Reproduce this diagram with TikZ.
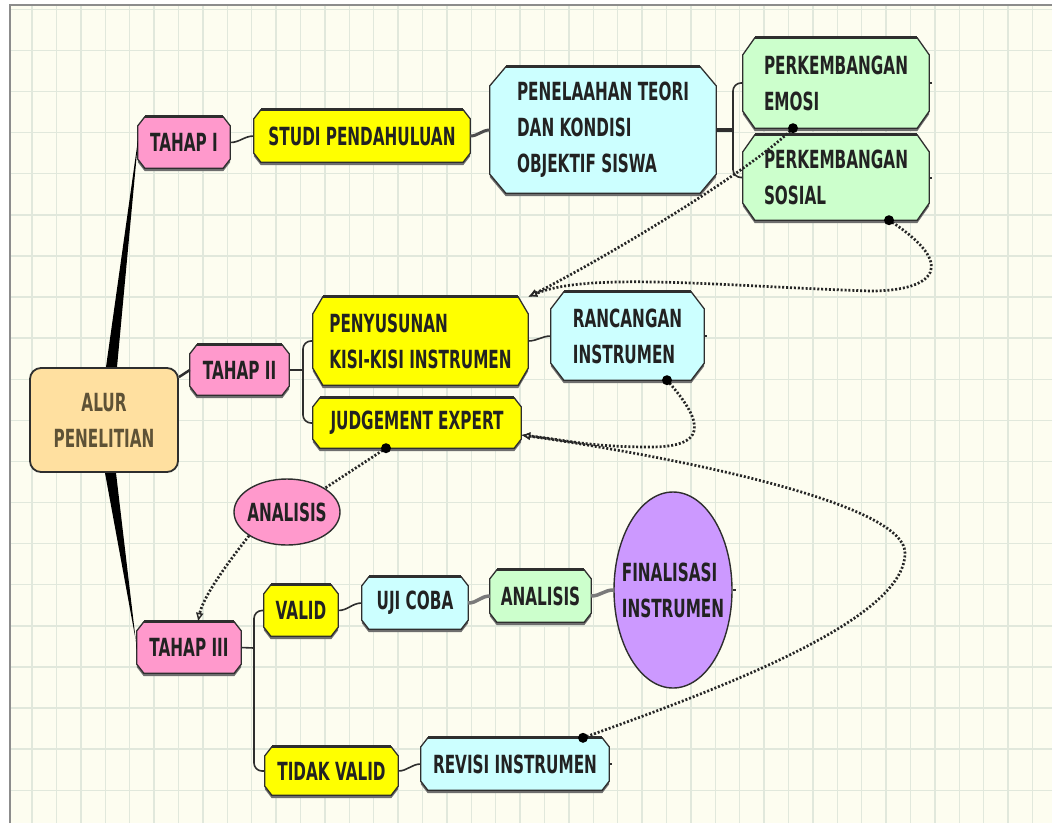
\documentclass[tikz,border=0pt]{standalone}
\usepackage{fontspec}
\newfontfamily\nf{DejaVu Sans}[FakeStretch=0.61]
\usetikzlibrary{shapes.geometric,arrows.meta}
\pgfdeclarelayer{gridl}
\pgfdeclarelayer{boxes}
\pgfsetlayers{gridl,boxes,main}
\definecolor{bgc}{HTML}{FDFDF0}
\definecolor{gridc}{HTML}{E1E8DC}
\definecolor{framec}{HTML}{8C8C8C}
\definecolor{edgec}{HTML}{2E2E2E}
\definecolor{shadowc}{HTML}{6E6E6E}
\definecolor{linkc}{HTML}{7A7A7A}
\definecolor{txtc}{HTML}{222222}
\definecolor{pinkc}{HTML}{FF99CC}
\definecolor{yelc}{HTML}{FFFF00}
\definecolor{cyanc}{HTML}{CCFFFF}
\definecolor{greenc}{HTML}{CCFFCC}
\definecolor{purc}{HTML}{CC99FF}
\definecolor{alurc}{HTML}{FFE0A0}
\definecolor{alurt}{HTML}{5E5236}
\tikzset{
  box/.style={rectangle, inner sep=0pt, align=left, text=txtc,
    font=\nf\bfseries\fontsize{25pt}{36pt}\selectfont},
  oval/.style={ellipse, inner sep=0pt, draw=edgec, line width=1.4pt, align=left, text=txtc,
    font=\nf\bfseries\fontsize{25pt}{36pt}\selectfont},
  conn/.style={draw=edgec, line width=1.6pt},
  fatlink/.style={draw=linkc, line width=3.5pt},
  dots/.style={draw=black!85, line width=2.7pt, dash pattern=on 2pt off 1.9pt},
  tip/.style={-{Latex[open,length=9pt,width=8pt,line width=1.4pt]}},
  knob/.style={fill=black},
}
\newcommand\octo[4]{%
  \begin{pgfonlayer}{boxes}
  \fill[shadowc, transform canvas={yshift=-3pt}] ([xshift=#2]#1.north west) -- ([xshift=-#2]#1.north east) -- ([yshift=-#3]#1.north east) -- ([yshift=#3]#1.south east) -- ([xshift=-#2]#1.south east) -- ([xshift=#2]#1.south west) -- ([yshift=#3]#1.south west) -- ([yshift=-#3]#1.north west) -- cycle;
  \filldraw[fill=#4, draw=edgec, line width=1.3pt] ([xshift=#2]#1.north west) -- ([xshift=-#2]#1.north east) -- ([yshift=-#3]#1.north east) -- ([yshift=#3]#1.south east) -- ([xshift=-#2]#1.south east) -- ([xshift=#2]#1.south west) -- ([yshift=#3]#1.south west) -- ([yshift=-#3]#1.north west) -- cycle;
  \draw[edgec, line width=2.8pt] ([xshift=#2]#1.north west) -- ([xshift=-#2]#1.north east);
  \end{pgfonlayer}}
\begin{document}
\begin{tikzpicture}[x=1pt, y=-1pt]
\useasboundingbox (0,0) rectangle (1052,823);
% background and grid
\begin{pgfonlayer}{gridl}
  \fill[white] (0,0) rectangle (1052,823);
  \fill[bgc] (10,5) rectangle (1052,823);
  \foreach \k in {1,...,42} \draw[gridc, line width=1.4pt] ({7.6+24.4*\k},5) -- ({7.6+24.4*\k},823);
  \foreach \k in {0,...,19} \draw[gridc, line width=1.4pt] (10,{9.3+41.1*\k}) -- (1052,{9.3+41.1*\k});
  \draw[framec, line width=2.5pt] (10,823) -- (10,5) -- (1052,5);
\end{pgfonlayer}

% nodes
\node[box, minimum width=148pt, minimum height=104pt, align=center, text=alurt, fill=alurc, draw=edgec, line width=1.8pt, rounded corners=11pt] (alur) at (104,420) {ALUR\\PENELITIAN};
\node[box, minimum width=92pt, minimum height=51pt] (t1) at (184,142.5) {TAHAP I};
\node[box, minimum width=216pt, minimum height=52pt] (studi) at (362,136) {STUDI PENDAHULUAN};
\node[box, minimum width=226pt, minimum height=126pt] (pen) at (603,130) {PENELAAHAN TEORI\\DAN KONDISI\\OBJEKTIF SISWA};
\node[box, minimum width=186pt, minimum height=90pt] (emo) at (836,83) {PERKEMBANGAN\\EMOSI};
\node[box, minimum width=186pt, minimum height=85pt] (sos) at (836,177.5) {PERKEMBANGAN\\SOSIAL};
\node[box, minimum width=99pt, minimum height=50pt] (t2) at (239.5,370) {TAHAP II};
\node[box, minimum width=215pt, minimum height=88pt] (kisi) at (420.5,341) {PENYUSUNAN\\KISI-KISI INSTRUMEN};
\node[box, minimum width=208pt, minimum height=50pt] (je) at (417,423) {JUDGEMENT EXPERT};
\node[box, minimum width=153pt, minimum height=88pt] (ran) at (627.5,336) {RANCANGAN\\INSTRUMEN};
\node[oval, fill=pinkc, inner xsep=-3pt, minimum width=106pt, minimum height=66pt] (an1) at (287,512) {ANALISIS};
\node[box, minimum width=104pt, minimum height=51pt] (t3) at (189,647.5) {TAHAP III};
\node[box, minimum width=74pt, minimum height=51pt] (valid) at (301,610.5) {VALID};
\node[box, minimum width=133pt, minimum height=48pt] (tv) at (331.5,771) {TIDAK VALID};
\node[box, minimum width=106pt, minimum height=52pt] (uji) at (415,603) {UJI COBA};
\node[box, minimum width=101pt, minimum height=52pt] (an2) at (540.5,596) {ANALISIS};
\node[box, minimum width=188pt, minimum height=52pt] (rev) at (515,764) {REVISI INSTRUMEN};
\node[oval, fill=purc, inner xsep=-9.5pt, minimum width=118pt, minimum height=196pt] (fin) at (673,590) {FINALISASI\\INSTRUMEN};

% octagonal frames
\octo{t1}{7pt}{9pt}{pinkc}
\octo{studi}{7pt}{9pt}{yelc}
\octo{pen}{16pt}{19pt}{cyanc}
\octo{emo}{12pt}{17pt}{greenc}
\octo{sos}{12pt}{17pt}{greenc}
\octo{t2}{7pt}{9pt}{pinkc}
\octo{kisi}{10pt}{17pt}{yelc}
\octo{je}{7pt}{9pt}{yelc}
\octo{ran}{13pt}{17pt}{cyanc}
\octo{t3}{7pt}{9pt}{pinkc}
\octo{valid}{7pt}{9pt}{yelc}
\octo{tv}{7pt}{9pt}{yelc}
\octo{uji}{7pt}{9pt}{cyanc}
\octo{an2}{7pt}{9pt}{greenc}
\octo{rev}{7pt}{9pt}{cyanc}

% main tapered branches
\begin{pgfonlayer}{boxes}
  \fill[black] ([xshift=2pt]alur.north) -- ([xshift=13pt]alur.north) -- ([yshift=-1.5pt]t1.west) -- ([yshift=1.5pt]t1.west) -- cycle;
  \fill[black] ([xshift=1pt]alur.south) -- ([xshift=12pt]alur.south) -- ([yshift=-1.5pt]t3.west) -- ([yshift=1.5pt]t3.west) -- cycle;
\end{pgfonlayer}

% solid connectors
\draw[conn, line width=2.5pt] ([yshift=-10pt]alur.north east) -- (t2.west);
\draw[conn] (t1.east) to[out=0,in=180] (studi.west);
\draw[fatlink, draw=edgec!85, line width=3pt] (studi.east) to[out=0,in=180] (pen.west);
\coordinate (bp) at (733,130);
\draw[conn, line width=3.5pt] (pen.east) -- (bp);
\draw[conn, rounded corners=8pt] (bp) |- (emo.west);
\draw[conn, rounded corners=8pt] (bp) |- (sos.west);
\coordinate (b2) at (303,370);
\draw[conn] (t2.east) -- (b2);
\draw[conn, rounded corners=8pt] (b2) |- (kisi.west);
\draw[conn, rounded corners=8pt] (b2) |- (je.west);
\draw[conn] (kisi.east) to[out=0,in=180] (ran.west);
\coordinate (b3) at (254,648);
\draw[conn] (t3.east) -- (b3);
\draw[conn, rounded corners=8pt] (b3) |- (valid.west);
\draw[conn, rounded corners=8pt] (b3) |- (tv.west);
\draw[conn] (valid.east) to[out=0,in=180] (uji.west);
\draw[fatlink] (uji.east) to[out=0,in=180] (an2.west);
\draw[fatlink] (an2.east) to[out=0,in=180] (fin.west);
\draw[conn] (tv.east) to[out=0,in=180] (rev.west);

% small end knobs
\draw[edgec, line width=2pt] (emo.east) -- ++(3,0);
\draw[edgec, line width=2pt] (sos.east) -- ++(3,0);
\draw[edgec, line width=2pt] (ran.east) -- ++(3,0);
\draw[edgec, line width=2pt] (fin.east) -- ++(3,0);
\draw[edgec, line width=2pt] (rev.east) -- ++(3,0);

% dotted relations
\coordinate (d1) at ([xshift=-43pt]emo.south);
\coordinate (d2) at ([xshift=53pt]sos.south);
\coordinate (d3) at ([xshift=39.5pt]ran.south);
\coordinate (d4) at ([xshift=-31pt]je.south);
\coordinate (d5) at ([xshift=68pt]rev.north);
\coordinate (tj) at ([yshift=-12pt]je.east);
\coordinate (m2) at (870,291);
\coordinate (m3) at (650,447);
\coordinate (m5) at (905,553);

\draw[dots, tip] (d1) .. controls +(-45,45) and +(70,-35) .. (kisi.north east);
\draw[dots, tip] (d2) .. controls +(70,45) and +(65,0) .. (m2) .. controls +(-150,-5) and +(60,-25) .. (kisi.north east);
\draw[dots, tip] (d3) .. controls +(40,45) and +(55,0) .. (m3) .. controls +(-60,0) and +(45,5) .. (tj);
\draw[dots, tip] (d5) .. controls +(137,-49) and +(0,67) .. (m5) .. controls +(0,-53) and +(128,18) .. (tj);
\draw[dots] (d4) -- (an1.north east);
\draw[dots, tip] (an1.south west) .. controls +(-20,25) and +(5,-25) .. ([xshift=9pt]t3.north);

\foreach \d in {d1,d2,d3,d4,d5} \fill[knob] (\d) circle (5pt);
\end{tikzpicture}
\end{document}
